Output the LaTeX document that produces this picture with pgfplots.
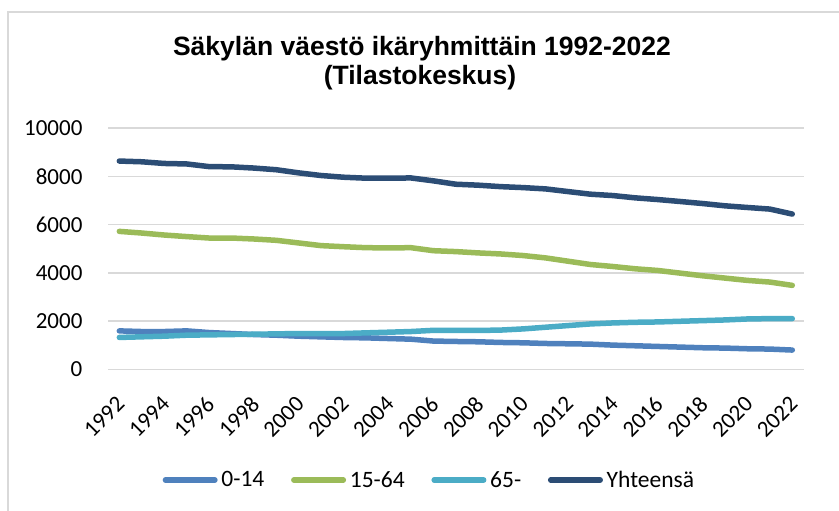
\documentclass[border=0pt]{standalone}
\usepackage{pgfplots}
\pgfplotsset{compat=1.18}
\usepackage{fontspec}
\setmainfont{Carlito}
\newfontfamily\titlefont{Liberation Sans}
\definecolor{cA}{HTML}{4F81BD}
\definecolor{cB}{HTML}{9BBB59}
\definecolor{cC}{HTML}{4BACC6}
\definecolor{cD}{HTML}{2C4D75}
\definecolor{gridc}{HTML}{D9D9D9}
\newcommand{\tickfont}{\fontsize{23}{27}\selectfont}
\begin{document}
\begin{tikzpicture}[x=1pt,y=1pt]
\useasboundingbox (0,0) rectangle (839,511);
\draw[gridc, line width=2pt] (8,-20) -- (8,499) -- (860,499);
\node[anchor=base, font=\titlefont\bfseries\fontsize{26.5}{29}\selectfont] at (422,455.3) {Säkylän väestö ikäryhmittäin 1992-2022};
\node[anchor=base, font=\titlefont\bfseries\fontsize{26.5}{29}\selectfont] at (420,426) {(Tilastokeskus)};
\begin{axis}[
  at={(108.1pt,141.7pt)}, anchor=south west,
  scale only axis, width=695.4pt, height=241.3pt,
  xmin=1991.5, xmax=2022.5, ymin=0, ymax=10000,
  xtick={1992,1994,...,2022}, ytick={0,2000,...,10000},
  scaled y ticks=false, scaled x ticks=false,
  axis line style={draw=none},
  major tick length=0pt,
  ymajorgrids, grid style={gridc, line width=1.5pt},
  /pgf/number format/1000 sep={},
  /pgf/number format/assume math mode=true,
  every tick label/.append style={font=\tickfont, text=black},
  yticklabel style={font=\tickfont, inner sep=0pt, xshift=-25.5pt},
  xticklabel style={font=\tickfont, yshift=-31pt, xshift=1.5pt, rotate=45, anchor=east, inner sep=0pt},
  legend columns=4,
  legend style={at={(0.4593,-0.4588)}, anchor=center, draw=none, fill=none,
    font=\fontsize{23.5}{27}\selectfont, nodes={inner sep=1pt},
    /tikz/every even column/.append style={column sep=23pt}},
  legend image code/.code={\path (-2.75pt,0pt) (52.25pt,0pt);
    \draw[#1, line width=5.5pt, line cap=round] (0pt,0pt) -- (49.5pt,0pt);},
  every axis plot/.append style={line width=5.5pt, line cap=round, line join=round, mark=none},
]
\addplot[cA] coordinates {
(1992,1592)(1993,1565)(1994,1565)(1995,1592)(1996,1523)(1997,1482)(1998,1440)(1999,1413)(2000,1372)(2001,1344)
(2002,1317)(2003,1303)(2004,1275)(2005,1248)(2006,1170)(2007,1153)(2008,1140)(2009,1112)(2010,1098)(2011,1070)
(2012,1057)(2013,1043)(2014,1002)(2015,975)(2016,947)(2017,920)(2018,893)(2019,879)(2020,851)(2021,838)(2022,797)};
\addlegendentry{0-14}
\addplot[cB] coordinates {
(1992,5716)(1993,5647)(1994,5565)(1995,5500)(1996,5440)(1997,5440)(1998,5400)(1999,5345)(2000,5235)(2001,5125)
(2002,5080)(2003,5040)(2004,5030)(2005,5040)(2006,4915)(2007,4878)(2008,4823)(2009,4780)(2010,4714)(2011,4617)
(2012,4480)(2013,4343)(2014,4260)(2015,4165)(2016,4096)(2017,3986)(2018,3876)(2019,3780)(2020,3684)(2021,3615)(2022,3478)};
\addlegendentry{15-64}
\addplot[cC] coordinates {
(1992,1320)(1993,1346)(1994,1372)(1995,1413)(1996,1427)(1997,1440)(1998,1454)(1999,1468)(2000,1482)(2001,1482)
(2002,1482)(2003,1510)(2004,1537)(2005,1565)(2006,1615)(2007,1610)(2008,1610)(2009,1625)(2010,1674)(2011,1743)
(2012,1812)(2013,1880)(2014,1921)(2015,1948)(2016,1962)(2017,1990)(2018,2017)(2019,2045)(2020,2086)(2021,2100)(2022,2100)};
\addlegendentry{65-}
\addplot[cD] coordinates {
(1992,8630)(1993,8600)(1994,8530)(1995,8510)(1996,8400)(1997,8390)(1998,8340)(1999,8270)(2000,8140)(2001,8030)
(2002,7960)(2003,7920)(2004,7920)(2005,7930)(2006,7810)(2007,7670)(2008,7630)(2009,7570)(2010,7530)(2011,7476)
(2012,7366)(2013,7257)(2014,7200)(2015,7105)(2016,7035)(2017,6954)(2018,6870)(2019,6775)(2020,6706)(2021,6640)(2022,6433)};
\addlegendentry{Yhteensä}
\end{axis}
\end{tikzpicture}
\end{document}
